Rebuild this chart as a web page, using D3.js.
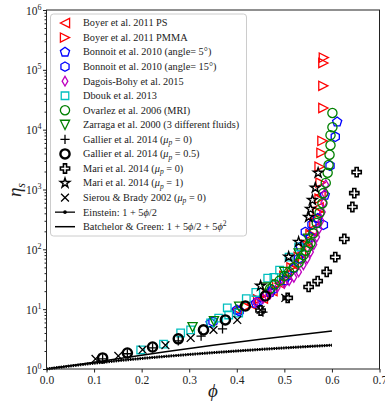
<!DOCTYPE html>
<html><head><meta charset="utf-8">
<script src="https://cdn.jsdelivr.net/npm/d3@7"></script>
<style>body{margin:0;background:#fff}svg{display:block}text{font-family:"Liberation Serif","DejaVu Serif",serif}</style>
</head><body><svg id="c" width="385" height="402"></svg>
<script>
// ---- data ----
const boyerPS = [[0.40,9.8],[0.43,12],[0.455,15],[0.475,20],[0.49,27],[0.505,38],[0.52,55],[0.535,85],[0.548,130],[0.558,200],[0.566,320],[0.572,500],[0.576,800]];
const boyerPMMA = [[0.42,11],[0.445,14.5],[0.465,18.5],[0.485,26],[0.50,36],[0.515,50],[0.53,75],[0.545,120],[0.555,180],[0.563,270],[0.57,420],[0.574,700],[0.576,1300],[0.574,2400],[0.578,4100],[0.58,6500],[0.582,23000],[0.582,54000],[0.582,130000],[0.583,160000]];
const bonnoit5 = [[0.345,5.9],[0.40,9.7],[0.44,12.6],[0.47,19],[0.50,30],[0.52,48],[0.534,110],[0.555,160],[0.57,330],[0.585,800],[0.611,13500]];
const bonnoit15 = [[0.35,6.2],[0.405,9.2],[0.445,13.5],[0.475,21],[0.505,35],[0.53,70],[0.544,195],[0.558,260],[0.582,256],[0.596,2500],[0.607,7600]];
const dagois = [[0.44,13],[0.455,15],[0.47,18],[0.485,23],[0.50,27],[0.51,30],[0.52,34],[0.53,42],[0.54,55],[0.548,70],[0.555,90],[0.562,120],[0.568,160],[0.573,220],[0.577,300],[0.58,420],[0.583,600],[0.585,850],[0.587,1200]];
const dbouk = [[0.198,2.08],[0.246,2.6],[0.282,4.0],[0.303,4.5],[0.345,5.9],[0.362,7.1],[0.383,8.0],[0.404,8.6],[0.38,10.5],[0.42,15],[0.44,19],[0.465,33],[0.478,34],[0.49,45],[0.51,74],[0.53,110]];
const ovarlez = [[0.47,22],[0.48,26],[0.49,30],[0.50,36],[0.51,42],[0.52,50],[0.53,60],[0.535,70],[0.54,80],[0.545,95],[0.55,110],[0.555,126],[0.561,185],[0.568,275],[0.574,410],[0.58,590],[0.582,870],[0.587,1290],[0.591,1900],[0.593,2570],[0.595,3800],[0.597,5500],[0.597,8100],[0.601,11000],[0.601,19000]];
const zarraga = [[0.307,5.0],[0.352,6.3],[0.405,11],[0.46,23],[0.50,42],[0.53,85],[0.55,150]];
const gallier0 = [[0.118,1.48],[0.17,1.8],[0.223,2.25],[0.277,2.95],[0.325,3.55],[0.37,4.7],[0.455,8.9]];
const gallier05 = [[0.118,1.53],[0.17,1.85],[0.223,2.33],[0.277,3.2],[0.33,4.5],[0.376,6.6],[0.418,11.3],[0.46,16.6]];
const mari0 = [[0.45,9.5],[0.507,15.4],[0.551,23.5],[0.570,29.5],[0.589,42],[0.607,74],[0.626,149],[0.643,510],[0.647,870],[0.652,1950]];
const mari1 = [[0.45,24.5],[0.509,75],[0.53,133],[0.551,347],[0.555,470],[0.559,665],[0.565,1070],[0.571,1900]];
const sierou = [[0.103,1.47],[0.151,1.65],[0.202,2.1],[0.25,2.5],[0.303,3.3],[0.351,4.5],[0.401,6.6],[0.45,9.7],[0.502,15.4]];
const phiTheory = [0,0.05,0.1,0.15,0.2,0.25,0.3,0.35,0.4,0.45,0.5,0.55,0.6];
const xTicks = [0,0.1,0.2,0.3,0.4,0.5,0.6,0.7];
const yTicks = [1,10,100,1000,10000,100000,1000000];

const series = [
 {name:[["Boyer et al. 2011 PS"]], data:boyerPS, m:"tl", c:"#ff0000"},
 {name:[["Boyer et al. 2011 PMMA"]], data:boyerPMMA, m:"tr", c:"#ff0000"},
 {name:[["Bonnoit et al. 2010 (angle= 5°)"]], data:bonnoit5, m:"pent", c:"#0000ff"},
 {name:[["Bonnoit et al. 2010 (angle= 15°)"]], data:bonnoit15, m:"hex", c:"#0000ff"},
 {name:[["Dagois-Bohy et al. 2015"]], data:dagois, m:"dia", c:"#bf00bf"},
 {name:[["Dbouk et al. 2013"]], data:dbouk, m:"sq", c:"#00bfbf"},
 {name:[["Ovarlez et al. 2006 (MRI)"]], data:ovarlez, m:"circ", c:"#008000"},
 {name:[["Zarraga et al. 2000 (3 different fluids)"]], data:zarraga, m:"tv", c:"#008000"},
 {name:[["Gallier et al. 2014 ("],["μ","i"],["p","sub"],[" = 0)"]], data:gallier0, m:"plus", c:"#000"},
 {name:[["Gallier et al. 2014 ("],["μ","i"],["p","sub"],[" = 0.5)"]], data:gallier05, m:"circ", c:"#000", w:2.4},
 {name:[["Mari et al. 2014 ("],["μ","i"],["p","sub"],[" = 0)"]], data:mari0, m:"P", c:"#000", w:1.6},
 {name:[["Mari et al. 2014 ("],["μ","i"],["p","sub"],[" = 1)"]], data:mari1, m:"star", c:"#000", w:1.4},
 {name:[["Sierou & Brady 2002 ("],["μ","i"],["p","sub"],[" = 0)"]], data:sierou, m:"x", c:"#000"}
];

function poly(pts){return "M"+pts.map(p=>p[0].toFixed(2)+","+p[1].toFixed(2)).join("L")+"Z";}
function reg(n,r,a0){const p=[];for(let k=0;k<n;k++){const a=(a0+360*k/n)*Math.PI/180;p.push([r*Math.cos(a),r*Math.sin(a)]);}return p;}
function markerPath(t,s){
 switch(t){
  case "tl": return poly([[-s,0],[s,-s],[s,s]]);
  case "tr": return poly([[s,0],[-s,-s],[-s,s]]);
  case "tv": return poly([[0,s],[-s,-s],[s,-s]]);
  case "pent": return poly(reg(5,s*1.05,-90));
  case "hex": return poly(reg(6,s*1.02,-90));
  case "dia": return poly([[0,-s*1.05],[s*0.62,0],[0,s*1.05],[-s*0.62,0]]);
  case "sq": {const h=s*0.82;return poly([[-h,-h],[h,-h],[h,h],[-h,h]]);}
  case "circ": return `M${s},0A${s},${s} 0 1,1 ${-s},0A${s},${s} 0 1,1 ${s},0Z`;
  case "plus": return `M${-s},0H${s}M0,${-s}V${s}`;
  case "x": {const h=s*0.85;return `M${-h},${-h}L${h},${h}M${-h},${h}L${h},${-h}`;}
  case "P": {const a=s/3,b=s;return poly([[-a,-b],[a,-b],[a,-a],[b,-a],[b,a],[a,a],[a,b],[-a,b],[-a,a],[-b,a],[-b,-a],[-a,-a]]);}
  case "star": {const p=[];for(let k=0;k<10;k++){const r=k%2?s*0.42:s*1.1;const a=(-90+36*k)*Math.PI/180;p.push([r*Math.cos(a),r*Math.sin(a)]);}return poly(p);}
 }
}

const svg = d3.select("#c");
const X = d3.scaleLinear([0,0.7],[46.5,379.5]);
const Y = d3.scaleLog([1,1e6],[369,10]);
const S = 4.6;

// axes
const gx = svg.append("g").attr("transform","translate(0,369)")
 .call(d3.axisBottom(X).tickValues(xTicks).tickFormat(d3.format(".1f")).tickSize(3.5).tickPadding(3));
gx.select(".domain").remove();
gx.selectAll("text").attr("font-size",11.5).attr("fill","#222").style("font-family","Liberation Serif");
gx.selectAll("line").attr("stroke","#222");

const minor=[];
for(let e=0;e<6;e++)for(let k=2;k<10;k++)minor.push(k*Math.pow(10,e));
const gm = svg.append("g").attr("transform","translate(46.5,0)")
 .call(d3.axisLeft(Y).tickValues(minor).tickFormat("").tickSize(2));
gm.select(".domain").remove(); gm.selectAll("line").attr("stroke","#222");
const gy = svg.append("g").attr("transform","translate(46.5,0)")
 .call(d3.axisLeft(Y).tickValues(yTicks).tickFormat("").tickSize(3.5));
gy.select(".domain").remove(); gy.selectAll("line").attr("stroke","#222");
gy.selectAll(".tick").append("text").attr("x",-5).attr("dy","0.35em").attr("text-anchor","end")
 .attr("fill","#222").attr("font-size",11.5)
 .each(function(d){const t=d3.select(this);t.append("tspan").text("10");
   t.append("tspan").attr("dy",-5).attr("font-size",8).text(Math.round(Math.log10(d)));});

// data
series.forEach(s=>{
 svg.append("g").selectAll("path").data(s.data).join("path")
  .attr("transform",d=>`translate(${X(d[0])},${Y(d[1])})`)
  .attr("d",markerPath(s.m,S)).attr("fill","none").attr("stroke",s.c).attr("stroke-width",s.w||1.3)
  .attr("stroke-linejoin","miter");
});

// theory lines
const einstein = phiTheory.map(p=>[p,1+2.5*p]);
const batchelor = phiTheory.map(p=>[p,1+2.5*p+5*p*p]);
const line = d3.line().x(d=>X(d[0])).y(d=>Y(d[1]));
svg.append("path").attr("d",line(einstein)).attr("fill","none").attr("stroke","#000").attr("stroke-width",1.3);
svg.append("path").attr("d",line(einstein)).attr("fill","none").attr("stroke","#000").attr("stroke-width",3).attr("stroke-dasharray","1.4,1");
svg.append("path").attr("d",line(batchelor)).attr("fill","none").attr("stroke","#000").attr("stroke-width",1.5);

// frame
svg.append("rect").attr("x",46.5).attr("y",10).attr("width",333).attr("height",359)
 .attr("fill","none").attr("stroke","#222").attr("stroke-width",1);

// legend
const lg = svg.append("g");
lg.append("rect").attr("x",50.5).attr("y",14).attr("width",196).attr("height",222).attr("rx",3)
 .attr("fill","#fff").attr("fill-opacity",0.85).attr("stroke","#ccc");
const rowY = i => 23 + i*14.55;
function addText(parts,y){
 const t=lg.append("text").attr("x",83).attr("y",y).attr("dy","0.33em").attr("font-size",10.3).attr("fill","#222");
 let shift=0;
 parts.forEach(p=>{
  const ts=t.append("tspan").text(p[0]);
  if(p[1]==="i") ts.attr("font-style","italic");
  if(p[1]==="sub"){ts.attr("font-size",7.5).attr("font-style","italic").attr("dy",2.5);shift=2.5;}
  else if(p[1]==="sup"){ts.attr("font-size",7.5).attr("dy",-4);shift=-4;}
  else if(shift){ts.attr("dy",-shift);shift=0;}
 });
}
series.forEach((s,i)=>{
 const y=rowY(i);
 lg.append("path").attr("transform",`translate(65,${y})`).attr("d",markerPath(s.m,S))
  .attr("fill","none").attr("stroke",s.c).attr("stroke-width",s.w||1.3);
 addText(s.name,y);
});
const yE=rowY(13), yB=rowY(14);
lg.append("line").attr("x1",55).attr("x2",75).attr("y1",yE).attr("y2",yE).attr("stroke","#000").attr("stroke-width",1.3);
lg.append("circle").attr("cx",65).attr("cy",yE).attr("r",1.8).attr("fill","#000");
addText([["Einstein: 1 + 5"],["ϕ","i"],["/2"]],yE);
lg.append("line").attr("x1",55).attr("x2",75).attr("y1",yB).attr("y2",yB).attr("stroke","#000").attr("stroke-width",1.5);
addText([["Batchelor & Green: 1 + 5"],["ϕ","i"],["/2 + 5"],["ϕ","i"],["2","sup"]],yB);

// axis labels
svg.append("text").attr("x",213).attr("y",397).attr("text-anchor","middle").attr("font-size",19)
 .attr("font-style","italic").attr("fill","#222").text("ϕ");
const yl=svg.append("text").attr("transform","translate(21,190) rotate(-90)").attr("text-anchor","middle")
 .attr("font-size",19).attr("fill","#222");
yl.append("tspan").attr("font-style","italic").text("η");
yl.append("tspan").attr("font-size",12).attr("font-style","italic").attr("dy",4).text("s");
</script></body></html>
